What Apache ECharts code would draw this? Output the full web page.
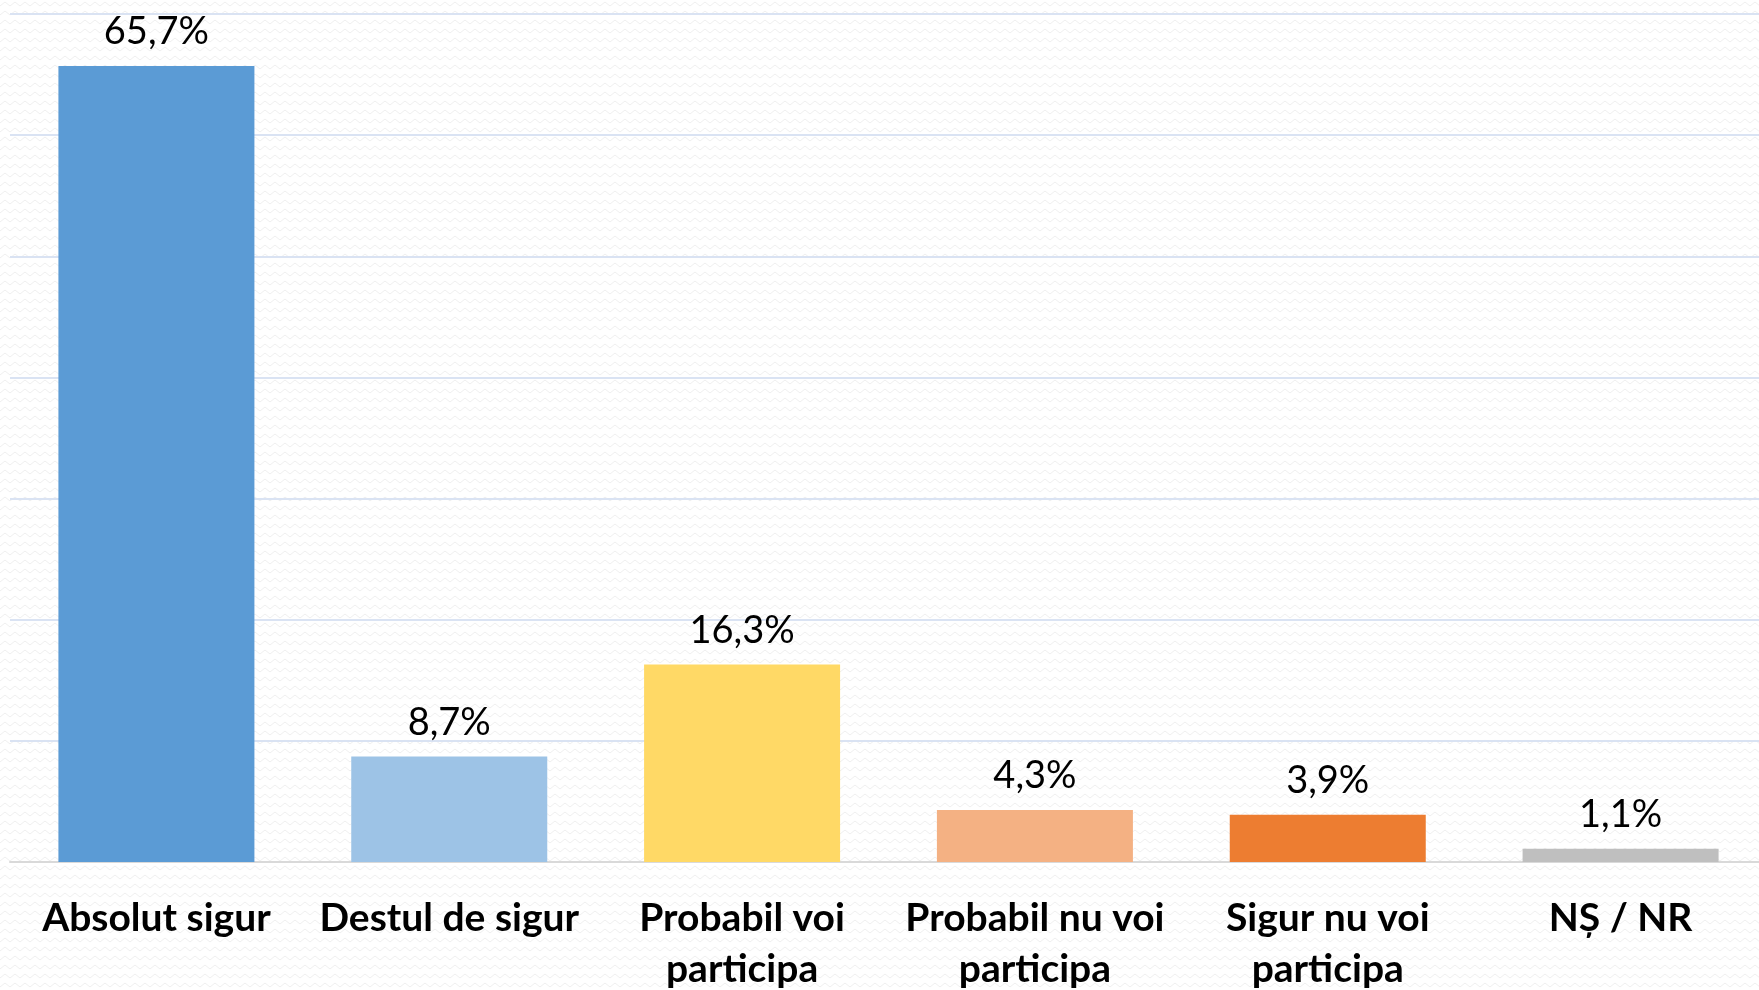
<!DOCTYPE html>
<html>
<head>
<meta charset="utf-8">
<script src="https://cdn.jsdelivr.net/npm/echarts@6/dist/echarts.min.js"></script>
<style>
  html, body { margin: 0; padding: 0; background: #fff; }
  #chart { width: 1759px; height: 990px; }
</style>
</head>
<body>
<div id="chart"></div>
<script>
  var categories = ['Absolut sigur', 'Destul de sigur', 'Probabil voi\nparticipa', 'Probabil nu voi\nparticipa', 'Sigur nu voi\nparticipa', 'NȘ / NR'];
  var values = [65.7, 8.7, 16.3, 4.3, 3.9, 1.1];
  var barColors = ['#5b9bd5', '#9dc3e6', '#ffd966', '#f4b183', '#ed7d31', '#bfbfbf'];

  // faint zigzag background texture
  var tile = document.createElement('canvas');
  tile.width = 10; tile.height = 9;
  var ctx = tile.getContext('2d');
  ctx.fillStyle = '#ffffff';
  ctx.fillRect(0, 0, 10, 9);
  ctx.strokeStyle = '#efefef';
  ctx.lineWidth = 1;
  ctx.beginPath();
  ctx.moveTo(0, 6); ctx.lineTo(5, 2); ctx.lineTo(10, 6);
  ctx.stroke();

  var option = {
    backgroundColor: { image: tile, repeat: 'repeat' },
    grid: { left: 10, width: 1757, top: 14, bottom: 128, containLabel: false, outerBoundsMode: 'none' },
    xAxis: {
      type: 'category',
      data: categories,
      axisLine: { lineStyle: { color: '#d9d9d9', width: 2 } },
      axisTick: { show: false },
      axisLabel: {
        interval: 0,
        margin: 31,
        color: '#000',
        fontFamily: 'Lato',
        fontWeight: 'bold',
        fontSize: 39,
        lineHeight: 51,
        verticalAlign: 'top'
      }
    },
    yAxis: {
      type: 'value',
      min: 0,
      max: 70,
      interval: 10,
      axisLabel: { show: false },
      axisLine: { show: false },
      axisTick: { show: false },
      splitLine: { lineStyle: { color: '#dae3f3', width: 2 } }
    },
    series: [{
      type: 'bar',
      barWidth: 196,
      data: values.map(function (v, i) {
        return { value: v, itemStyle: { color: barColors[i] } };
      }),
      label: {
        show: true,
        position: 'top',
        distance: 15,
        color: '#000',
        fontFamily: 'Lato',
        fontSize: 38,
        formatter: function (p) { return String(p.value).replace('.', ',') + '%'; }
      }
    }]
  };

  var chart = echarts.init(document.getElementById('chart'));
  chart.setOption(option);
</script>
</body>
</html>
